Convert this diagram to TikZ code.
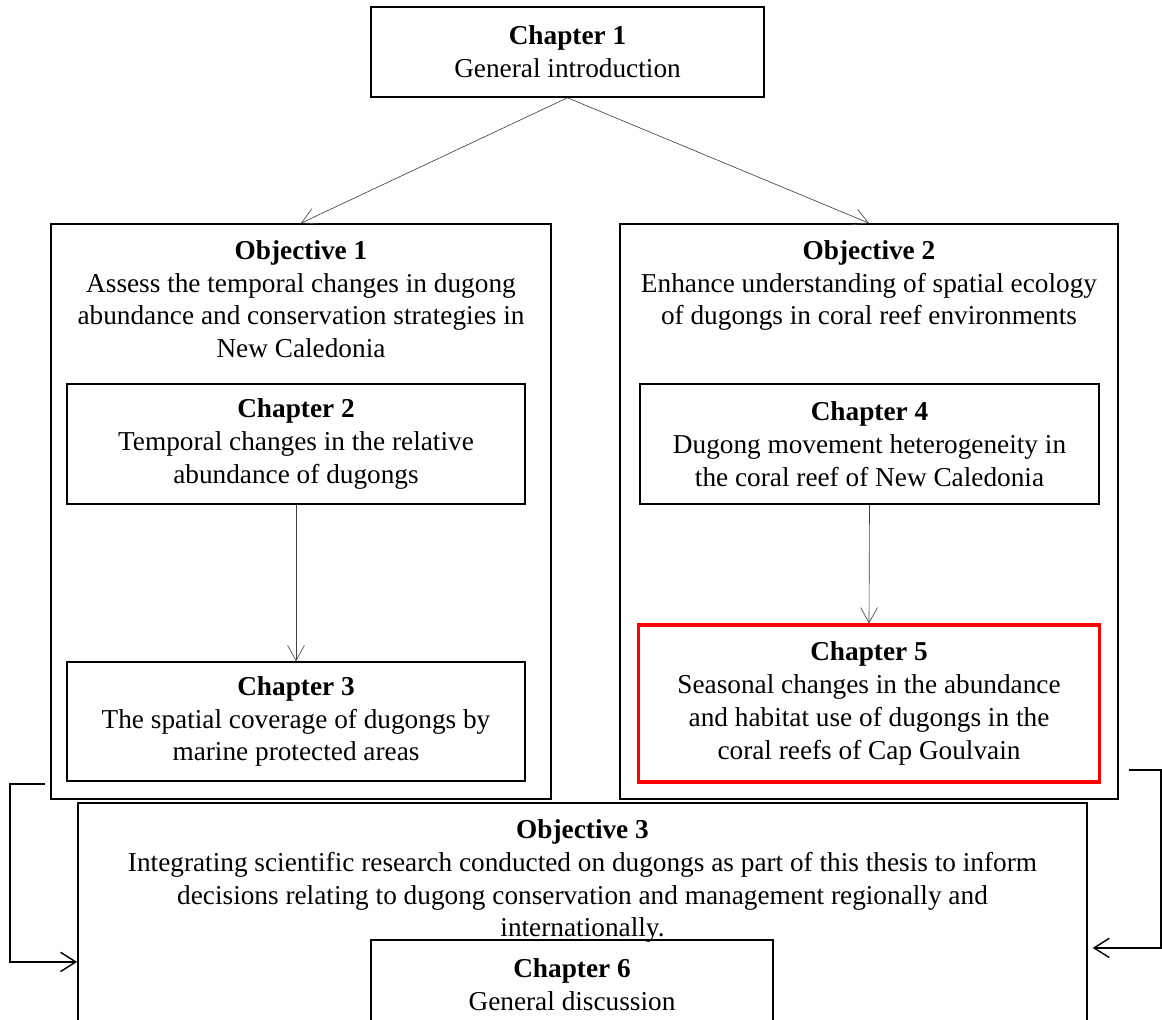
\documentclass[tikz,border=0pt]{standalone}
\usepackage{fontspec}
\setmainfont{Liberation Serif}
\usetikzlibrary{positioning,arrows.meta}

\tikzset{
  box/.style={draw, line width=1.1pt, inner sep=0pt, align=center, font=\fontsize{19.4}{23.4}\selectfont},
  redbox/.style={box, draw=red, line width=2.2pt},
  txt/.style={align=center, inner sep=0pt, font=\fontsize{19.4}{23.4}\selectfont},
  link/.style={-{Straight Barb[length=0.38cm,width=0.42cm]}, line width=0.45pt, draw=black!75},
  back/.style={-{Straight Barb[length=0.38cm,width=0.48cm]}, line width=1pt},
}

\begin{document}
\begin{tikzpicture}[x=0.025cm, y=-0.025cm]
\clip (0,0) rectangle (1162,1019);

% Chapter 1
\node[box, minimum width=9.825cm, minimum height=2.25cm] (ch1) at (567.5,52) {\textbf{Chapter 1}\\General introduction};

% Objectives 1 and 2
\node[box, minimum width=12.5cm, minimum height=14.375cm] (ob1) at (301,511.5) {};
\node[txt, anchor=north] (ob1t) at ([yshift=-0.42cm]ob1.north) {\textbf{Objective 1}\\Assess the temporal changes in dugong\\abundance and conservation strategies in\\New Caledonia};

\node[box, minimum width=12.45cm, minimum height=14.375cm] (ob2) at (869,511.5) {};
\node[txt, anchor=north] (ob2t) at ([yshift=-0.42cm]ob2.north) {\textbf{Objective 2}\\Enhance understanding of spatial ecology\\of dugongs in coral reef environments};

% Chapters 2 to 5
\node[box, minimum width=11.45cm, minimum height=3cm] (ch2) at (296,444) {\textbf{Chapter 2}\\Temporal changes in the relative\\abundance of dugongs};
\node[box, minimum width=11.45cm, minimum height=2.975cm] (ch3) at (296,721.5) {\textbf{Chapter 3}\\The spatial coverage of dugongs by\\marine protected areas};
\node[box, minimum width=11.475cm, minimum height=3cm] (ch4) at (869.5,444) {\textbf{Chapter 4}\\Dugong movement heterogeneity in\\the coral reef of New Caledonia};
\node[redbox, minimum width=11.5cm, minimum height=3.925cm] (ch5) at (869,703.5) {\textbf{Chapter 5}\\Seasonal changes in the abundance\\and habitat use of dugongs in the\\coral reefs of Cap Goulvain};

% Objective 3 and Chapter 6
\node[box, minimum width=25.225cm, minimum height=5.925cm] (ob3) at (582.5,921.5) {};
\node[txt, anchor=north] (ob3t) at ([yshift=-0.42cm]ob3.north) {\textbf{Objective 3}\\Integrating scientific research conducted on dugongs as part of this thesis to inform\\decisions relating to dugong conservation and management regionally and\\internationally.};
\node[box, minimum width=10.05cm, minimum height=2.25cm] (ch6) at (572,985) {\textbf{Chapter 6}\\General discussion};

% Arrows
\draw[link] (ch1.south) -- (ob1.north);
\draw[link] (ch1.south) -- (ob2.north);
\draw[link] (ch2.south) -- (ch3.north);
\draw[link] (ch4.south) -- (ch5.north);

% Feedback into Objective 3
\coordinate (lstart) at (45,784);
\coordinate (rstart) at (1129,770);
\draw[back] (lstart) -- (10,784) |- ([yshift=-1.01cm]ob3.west);
\draw[back] (rstart) -- (1161,770) |- ([xshift=0.12cm, yshift=-0.66cm]ob3.east);

\end{tikzpicture}
\end{document}
